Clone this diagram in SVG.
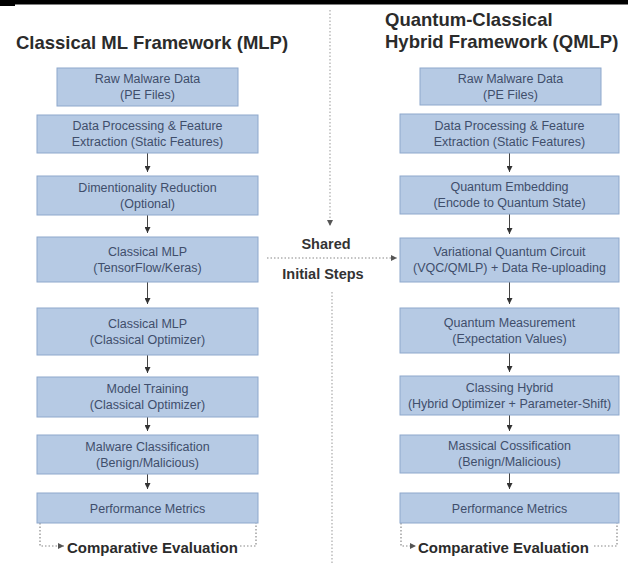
<svg xmlns="http://www.w3.org/2000/svg" width="628" height="564" viewBox="0 0 628 564">
<style>
.title{font-family:"Liberation Sans",Arial,sans-serif;font-weight:bold;font-size:18.5px;fill:#2b2b2b}
.side{font-family:"Liberation Sans",Arial,sans-serif;font-weight:bold;font-size:14.5px;fill:#333;text-anchor:middle}
.eval{font-family:"Liberation Sans",Arial,sans-serif;font-weight:bold;font-size:15px;fill:#2b2b2b}
.b{fill:#b6cae4;stroke:#8ea8cc;stroke-width:1}
.t{font-family:"Liberation Sans",Arial,sans-serif;font-size:12.5px;fill:#3f4e6b;text-anchor:middle}
.c{fill:none;stroke:#444;stroke-width:1;marker-end:url(#ah)}
.dot{fill:none;stroke:#aaa;stroke-width:1.2;stroke-dasharray:1.5 2}
.dotd{fill:none;stroke:#888;stroke-width:1.2;stroke-dasharray:1.5 2}
</style>
<defs>
<marker id="ah" markerUnits="userSpaceOnUse" markerWidth="6" markerHeight="6" refX="6" refY="3" orient="auto">
<path d="M0,0 L6,3 L0,6 z" fill="#333"/>
</marker>
<marker id="ahg" markerUnits="userSpaceOnUse" markerWidth="6" markerHeight="6" refX="6" refY="3" orient="auto">
<path d="M0,0 L6,3 L0,6 z" fill="#555"/>
</marker>
</defs>
<rect x="0" y="0" width="628" height="4.5" fill="#000"/>
<rect x="0" y="0" width="15" height="6" fill="#000"/>

<text class="title" x="16" y="49">Classical ML Framework (MLP)</text>
<text class="title" x="385" y="26">Quantum-Classical</text>
<text class="title" x="385" y="48">Hybrid Framework (QMLP)</text>

<g id="connectors">
<path class="dot" d="M330,10 V226" marker-end="url(#ahg)"/>
<path class="dot" d="M332,292 V564"/>
<path class="dotd" d="M267,258 H397" marker-end="url(#ahg)"/>
<path class="c" d="M147.5,153 V172"/>
<path class="c" d="M147.5,215 V233"/>
<path class="c" d="M147.5,282 V304"/>
<path class="c" d="M147.5,355 V373"/>
<path class="c" d="M147.5,417 V431"/>
<path class="c" d="M147.5,474 V489"/>
<path class="c" d="M509.5,153 V172"/>
<path class="c" d="M509.5,214 V234"/>
<path class="c" d="M509.5,282 V304"/>
<path class="c" d="M509.5,353 V372"/>
<path class="c" d="M509.5,415 V431"/>
<path class="c" d="M509.5,473 V489"/>
<path class="dotd" d="M40,523 V546 H64" marker-end="url(#ahg)"/>
<path class="dotd" d="M240,546 H256 V523"/>
<path class="dotd" d="M401,523 V546 H416" marker-end="url(#ahg)"/>
<path class="dotd" d="M594,546 H617 V523"/>
</g>

<g id="shared">
<text class="side" x="326" y="249">Shared</text>
<text class="side" x="323" y="279">Initial Steps</text>
</g>

<g id="L1"><rect class="b" x="57" y="68" width="181" height="38"/><text class="t" x="147.5" y="83">Raw Malware Data</text><text class="t" x="147.5" y="99">(PE Files)</text></g>
<g id="L2"><rect class="b" x="37" y="115" width="221" height="38"/><text class="t" x="147.5" y="130">Data Processing &amp; Feature</text><text class="t" x="147.5" y="146">Extraction (Static Features)</text></g>
<g id="L3"><rect class="b" x="37" y="176" width="221" height="39"/><text class="t" x="147.5" y="191.5">Dimentionality Reduction</text><text class="t" x="147.5" y="207.5">(Optional)</text></g>
<g id="L4"><rect class="b" x="37" y="237" width="221" height="45"/><text class="t" x="147.5" y="255.5">Classical MLP</text><text class="t" x="147.5" y="271.5">(TensorFlow/Keras)</text></g>
<g id="L5"><rect class="b" x="37" y="308" width="221" height="47"/><text class="t" x="147.5" y="327.5">Classical MLP</text><text class="t" x="147.5" y="343.5">(Classical Optimizer)</text></g>
<g id="L6"><rect class="b" x="37" y="377" width="221" height="40"/><text class="t" x="147.5" y="393">Model Training</text><text class="t" x="147.5" y="409">(Classical Optimizer)</text></g>
<g id="L7"><rect class="b" x="37" y="435" width="221" height="39"/><text class="t" x="147.5" y="450.5">Malware Classification</text><text class="t" x="147.5" y="466.5">(Benign/Malicious)</text></g>
<g id="L8"><rect class="b" x="37" y="493" width="221" height="30"/><text class="t" x="147.5" y="512.5">Performance Metrics</text></g>

<g id="R1"><rect class="b" x="420" y="68" width="181" height="37"/><text class="t" x="510.5" y="82.5">Raw Malware Data</text><text class="t" x="510.5" y="98.5">(PE Files)</text></g>
<g id="R2"><rect class="b" x="400" y="114" width="219" height="39"/><text class="t" x="509.5" y="129.5">Data Processing &amp; Feature</text><text class="t" x="509.5" y="145.5">Extraction (Static Features)</text></g>
<g id="R3"><rect class="b" x="400" y="176" width="219" height="38"/><text class="t" x="509.5" y="191">Quantum Embedding</text><text class="t" x="509.5" y="207">(Encode to Quantum State)</text></g>
<g id="R4"><rect class="b" x="400" y="238" width="219" height="44"/><text class="t" x="509.5" y="256">Variational Quantum Circuit</text><text class="t" x="509.5" y="272">(VQC/QMLP) + Data Re-uploading</text></g>
<g id="R5"><rect class="b" x="400" y="308" width="219" height="45"/><text class="t" x="509.5" y="326.5">Quantum Measurement</text><text class="t" x="509.5" y="342.5">(Expectation Values)</text></g>
<g id="R6"><rect class="b" x="400" y="376" width="219" height="39"/><text class="t" x="509.5" y="391.5">Classing Hybrid</text><text class="t" x="509.5" y="407.5">(Hybrid Optimizer + Parameter-Shift)</text></g>
<g id="R7"><rect class="b" x="400" y="435" width="219" height="38"/><text class="t" x="509.5" y="450">Massical Cossification</text><text class="t" x="509.5" y="466">(Benign/Malicious)</text></g>
<g id="R8"><rect class="b" x="400" y="493" width="219" height="30"/><text class="t" x="509.5" y="512.5">Performance Metrics</text></g>

<g id="evalL"><text class="eval" x="67" y="553">Comparative Evaluation</text></g>
<g id="evalR"><text class="eval" x="418" y="553">Comparative Evaluation</text></g>
</svg>
